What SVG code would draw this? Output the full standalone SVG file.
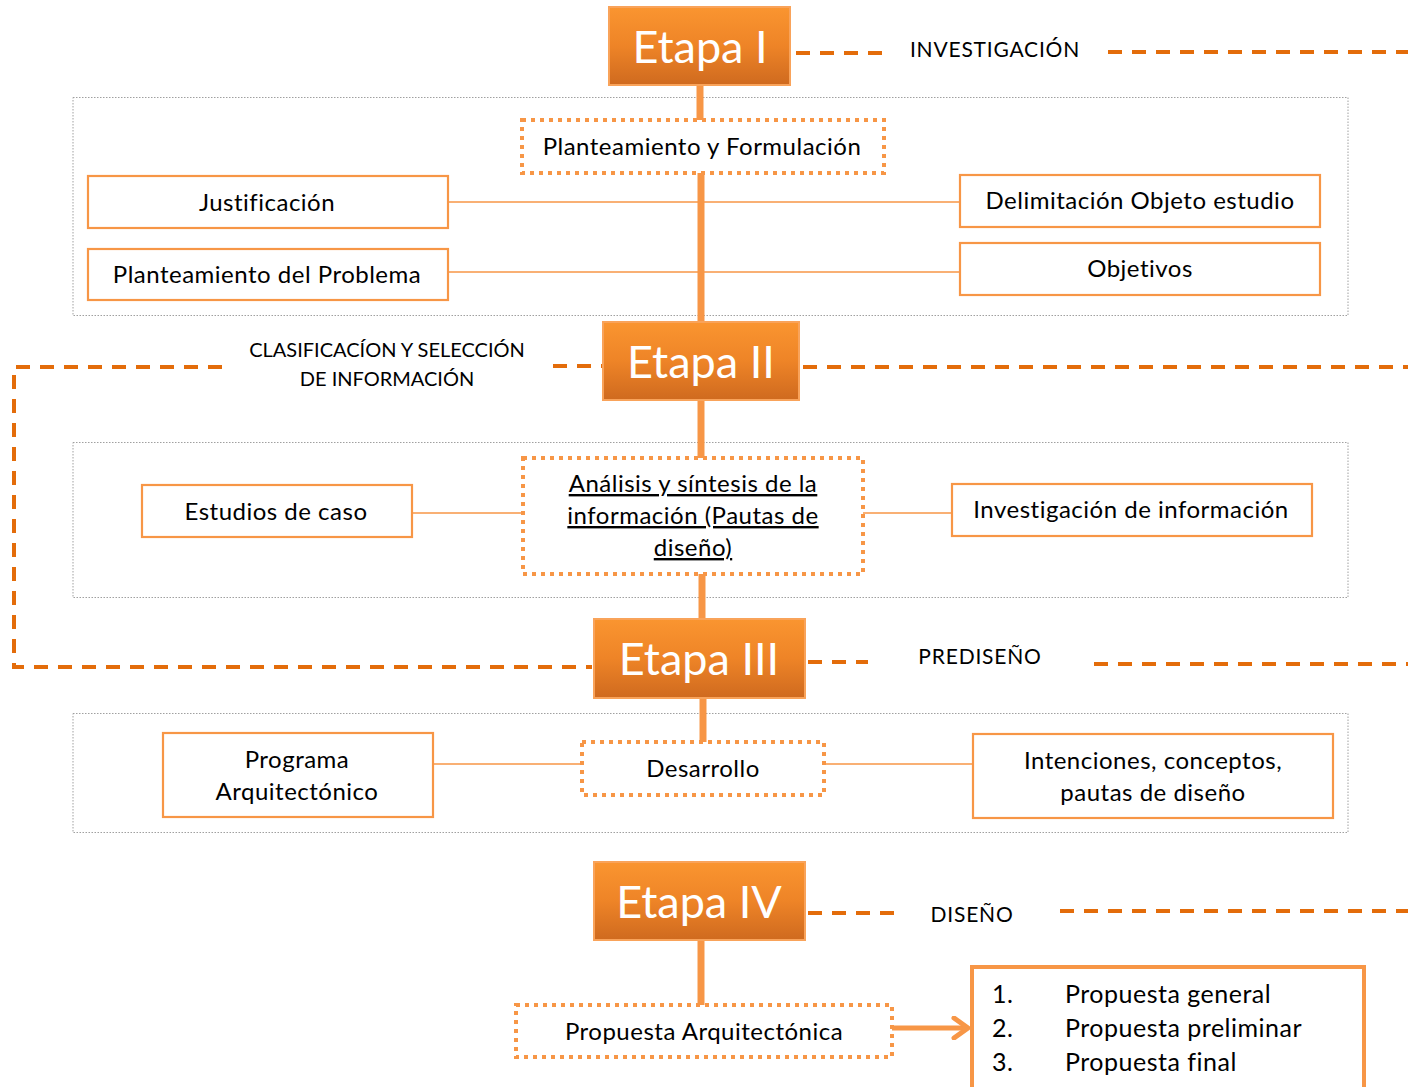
<svg xmlns="http://www.w3.org/2000/svg" width="1408" height="1087" viewBox="0 0 1408 1087">
<defs>
<linearGradient id="eg" x1="0" y1="0" x2="0" y2="1">
<stop offset="0" stop-color="#FA9530"/>
<stop offset="0.5" stop-color="#EE8427"/>
<stop offset="1" stop-color="#CF6A1F"/>
</linearGradient>
<marker id="chev" viewBox="0 0 20 24" refX="18" refY="12" markerWidth="20" markerHeight="24" markerUnits="userSpaceOnUse" orient="auto">
<path d="M4 2 L18 12 L4 22" fill="none" stroke="#F79646" stroke-width="5" stroke-linecap="round" stroke-linejoin="round"/>
</marker>
</defs>
<style>
text{font-family:Lato,"Open Sans","Liberation Sans",sans-serif;fill:#000;}
.etapa rect{fill:url(#eg);stroke:#F9A35A;stroke-width:2;}
.etapa text{fill:#fff;font-size:45px;text-anchor:middle;}
.cont{fill:none;stroke:#A0A0A0;stroke-width:1;stroke-dasharray:1.5 1.5;}
.box rect{fill:#fff;stroke:#F79646;stroke-width:2.2;}
.dot rect{fill:#fff;stroke:#F79646;stroke-width:4;stroke-dasharray:4 5;}
.lbl{font-size:24px;letter-spacing:0.5px;text-anchor:middle;}
.phase{font-size:21px;letter-spacing:0.8px;text-anchor:middle;}
.phase2{font-size:20px;text-anchor:middle;}
.item{font-size:25px;letter-spacing:0.5px;}
.dash{fill:none;stroke:#E36C0A;stroke-width:4;stroke-dasharray:14 10;}
.vline{stroke:#F79646;stroke-width:7;}
.hline{stroke:#F79646;stroke-width:1.6;}
</style>
<rect width="1408" height="1087" fill="#fff"/>

<g id="containers">
<rect class="cont" x="73" y="97.5" width="1275" height="218"/>
<rect class="cont" x="73" y="442.5" width="1275" height="155"/>
<rect class="cont" x="73" y="713.5" width="1275" height="119"/>
</g>

<g id="connectors">
<line class="vline" x1="700" y1="85" x2="700" y2="122"/>
<line class="vline" x1="701" y1="172" x2="701" y2="323"/>
<line class="vline" x1="701" y1="400" x2="701" y2="459"/>
<line class="vline" x1="702" y1="573" x2="702" y2="620"/>
<line class="vline" x1="703" y1="697" x2="703" y2="743"/>
<line class="vline" x1="701" y1="940" x2="701" y2="1006"/>
<line class="hline" x1="448" y1="202" x2="960" y2="202"/>
<line class="hline" x1="448" y1="272" x2="960" y2="272"/>
<line class="hline" x1="412" y1="513" x2="523" y2="513"/>
<line class="hline" x1="863" y1="513" x2="952" y2="513"/>
<line class="hline" x1="433" y1="764" x2="582" y2="764"/>
<line class="hline" x1="824" y1="764" x2="973" y2="764"/>
<line x1="892" y1="1028" x2="968" y2="1028" stroke="#F79646" stroke-width="5" marker-end="url(#chev)"/>
<path class="dash" d="M796 53 H884"/>
<path class="dash" d="M1108 52 H1408"/>
<path class="dash" d="M803 367 H1408"/>
<path class="dash" d="M553 366 H602"/>
<path class="dash" d="M222 367 H14 V667 H592"/>
<path class="dash" d="M808 662 H868"/>
<path class="dash" d="M1094 664 H1408"/>
<path class="dash" d="M808 913 H898"/>
<path class="dash" d="M1060 911 H1408"/>
</g>

<g id="phase-labels">
<text class="phase" x="995" y="57">INVESTIGACIÓN</text>
<text class="phase2" x="387" y="357">CLASIFICACÍON Y SELECCIÓN</text>
<text class="phase2" x="387" y="386">DE INFORMACIÓN</text>
<text class="phase" x="980" y="664">PREDISEÑO</text>
<text class="phase" x="972" y="922">DISEÑO</text>
</g>

<g id="etapa1" class="etapa"><rect x="609" y="7" width="181" height="78"/><text x="700" y="63">Etapa I</text></g>
<g id="etapa2" class="etapa"><rect x="603" y="322" width="196" height="78"/><text x="701" y="378">Etapa II</text></g>
<g id="etapa3" class="etapa"><rect x="594" y="619" width="211" height="79"/><text x="699" y="675">Etapa III</text></g>
<g id="etapa4" class="etapa"><rect x="594" y="862" width="211" height="78"/><text x="699" y="918">Etapa IV</text></g>

<g id="planteamiento-formulacion" class="dot"><rect x="522" y="120" width="362" height="53"/><text class="lbl" x="702" y="155">Planteamiento y Formulación</text></g>
<g id="justificacion" class="box"><rect x="88" y="176" width="360" height="52"/><text class="lbl" x="267" y="211">Justificación</text></g>
<g id="planteamiento-problema" class="box"><rect x="88" y="249" width="360" height="51"/><text class="lbl" x="267" y="283">Planteamiento del Problema</text></g>
<g id="delimitacion" class="box"><rect x="960" y="175" width="360" height="52"/><text class="lbl" x="1140" y="209">Delimitación Objeto estudio</text></g>
<g id="objetivos" class="box"><rect x="960" y="243" width="360" height="52"/><text class="lbl" x="1140" y="277">Objetivos</text></g>

<g id="analisis" class="dot"><rect x="523" y="458" width="340" height="116"/>
<text class="lbl" x="693" y="492" text-decoration="underline">Análisis y síntesis de la</text>
<text class="lbl" x="693" y="524" text-decoration="underline">información (Pautas de</text>
<text class="lbl" x="693" y="556" text-decoration="underline">diseño)</text></g>
<g id="estudios" class="box"><rect x="142" y="485" width="270" height="52"/><text class="lbl" x="276" y="520">Estudios de caso</text></g>
<g id="investigacion-info" class="box"><rect x="952" y="484" width="360" height="52"/><text class="lbl" x="1131" y="518">Investigación de información</text></g>

<g id="programa" class="box"><rect x="163" y="733" width="270" height="84"/><text class="lbl" x="297" y="768">Programa</text><text class="lbl" x="297" y="800">Arquitectónico</text></g>
<g id="desarrollo" class="dot"><rect x="582" y="742" width="242" height="53"/><text class="lbl" x="703" y="777">Desarrollo</text></g>
<g id="intenciones" class="box"><rect x="973" y="734" width="360" height="84"/><text class="lbl" x="1153" y="769">Intenciones, conceptos,</text><text class="lbl" x="1153" y="801">pautas de diseño</text></g>

<g id="propuesta-arq" class="dot"><rect x="516" y="1005" width="376" height="52"/><text class="lbl" x="704" y="1040">Propuesta Arquitectónica</text></g>
<g id="propuestas-lista">
<rect x="972" y="967" width="392" height="124" fill="#fff" stroke="#F79646" stroke-width="4"/>
<text class="item" x="992" y="1003">1.</text><text class="item" x="1065" y="1003">Propuesta general</text>
<text class="item" x="992" y="1037">2.</text><text class="item" x="1065" y="1037">Propuesta preliminar</text>
<text class="item" x="992" y="1071">3.</text><text class="item" x="1065" y="1071">Propuesta final</text>
</g>
</svg>
